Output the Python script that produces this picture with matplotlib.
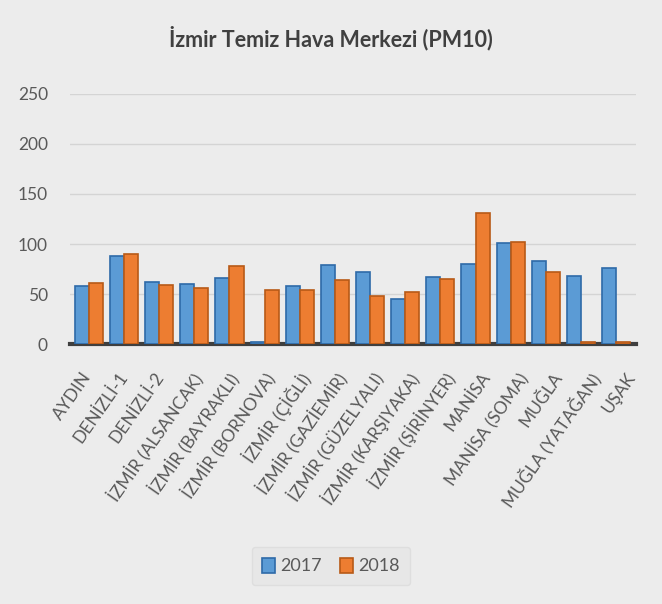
import matplotlib
matplotlib.use("Agg")
import matplotlib.pyplot as plt
import matplotlib.transforms as mtrans
import numpy as np

categories = ["AYDIN", "DENİZLİ-1", "DENİZLİ-2", "İZMİR (ALSANCAK)", "İZMİR (BAYRAKLI)",
              "İZMİR (BORNOVA)", "İZMİR (ÇİĞLİ)", "İZMİR (GAZİEMİR)", "İZMİR (GÜZELYALI)",
              "İZMİR (KARŞIYAKA)", "İZMİR (ŞİRİNYER)", "MANİSA", "MANİSA (SOMA)", "MUĞLA",
              "MUĞLA (YATAĞAN)", "UŞAK"]
values_2017 = [58, 88, 62, 60, 66, 2, 58, 79, 72, 45, 67, 80, 101, 83, 68, 76]
values_2018 = [61, 90, 59, 56, 78, 54, 54, 64, 48, 52, 65, 131, 102, 72, 2, 2]
series_names = ["2017", "2018"]
yticks = [0, 50, 100, 150, 200, 250]

blue, blue_dark = "#5b9bd5", "#2e6aa8"
orange, orange_dark = "#ed7d31", "#b85a17"
txt = "#595959"
font = ["Lato", "DejaVu Sans"]

fig = plt.figure(figsize=(6.62, 6.04), dpi=100)
fig.patch.set_facecolor("#ececec")
ax = fig.add_axes([0.105, 0.43, 0.855, 0.415])
ax.set_facecolor("#ececec")

x = np.arange(len(categories))
w = 0.4
b1 = ax.bar(x - w/2, values_2017, w, color=blue, edgecolor=blue_dark, linewidth=1.2, label=series_names[0], zorder=3)
b2 = ax.bar(x + w/2, values_2018, w, color=orange, edgecolor=orange_dark, linewidth=1.2, label=series_names[1], zorder=3)

ax.set_ylim(0, 250)
ax.set_xlim(-0.55, len(categories) - 0.45)
ax.set_yticks(yticks)
ax.yaxis.grid(True, color="#d4d4d4", linewidth=1)
ax.set_axisbelow(True)
for s in ["top", "right", "left"]:
    ax.spines[s].set_visible(False)
ax.spines["bottom"].set_color("#3f3f3f")
ax.spines["bottom"].set_linewidth(3)
ax.tick_params(axis="y", length=0, colors=txt, labelsize=12.5, pad=15.5)
ax.set_xticks([])
for lbl in ax.get_yticklabels():
    lbl.set_family(font)

# category labels (slightly spread by the 3D perspective of the original)
tr = mtrans.blended_transform_factory(ax.transData, ax.transAxes)
for i, name in enumerate(categories):
    ax.text(-0.2 + i * 1.03, -0.1, name, transform=tr, rotation=55,
            ha="right", va="top", rotation_mode="anchor", fontsize=12.5,
            color=txt, family=font, clip_on=False)

fig.text(0.5, 0.937, "İzmir Temiz Hava Merkezi (PM10)", ha="center", va="center",
         fontsize=15.5, fontweight="bold", color="#404040", family=font)

leg = fig.legend(handles=[b1, b2], labels=series_names, loc="center", bbox_to_anchor=(0.5, 0.063),
                 ncol=2, frameon=True, fontsize=13, handlelength=0.7, handleheight=0.9,
                 columnspacing=1.0, handletextpad=0.3, borderpad=0.6)
leg.get_frame().set_facecolor("#e6e6e6")
leg.get_frame().set_edgecolor("#dcdcdc")
for t in leg.get_texts():
    t.set_color(txt)
    t.set_family(font)

fig.savefig("out.png", dpi=100, facecolor=fig.get_facecolor())
